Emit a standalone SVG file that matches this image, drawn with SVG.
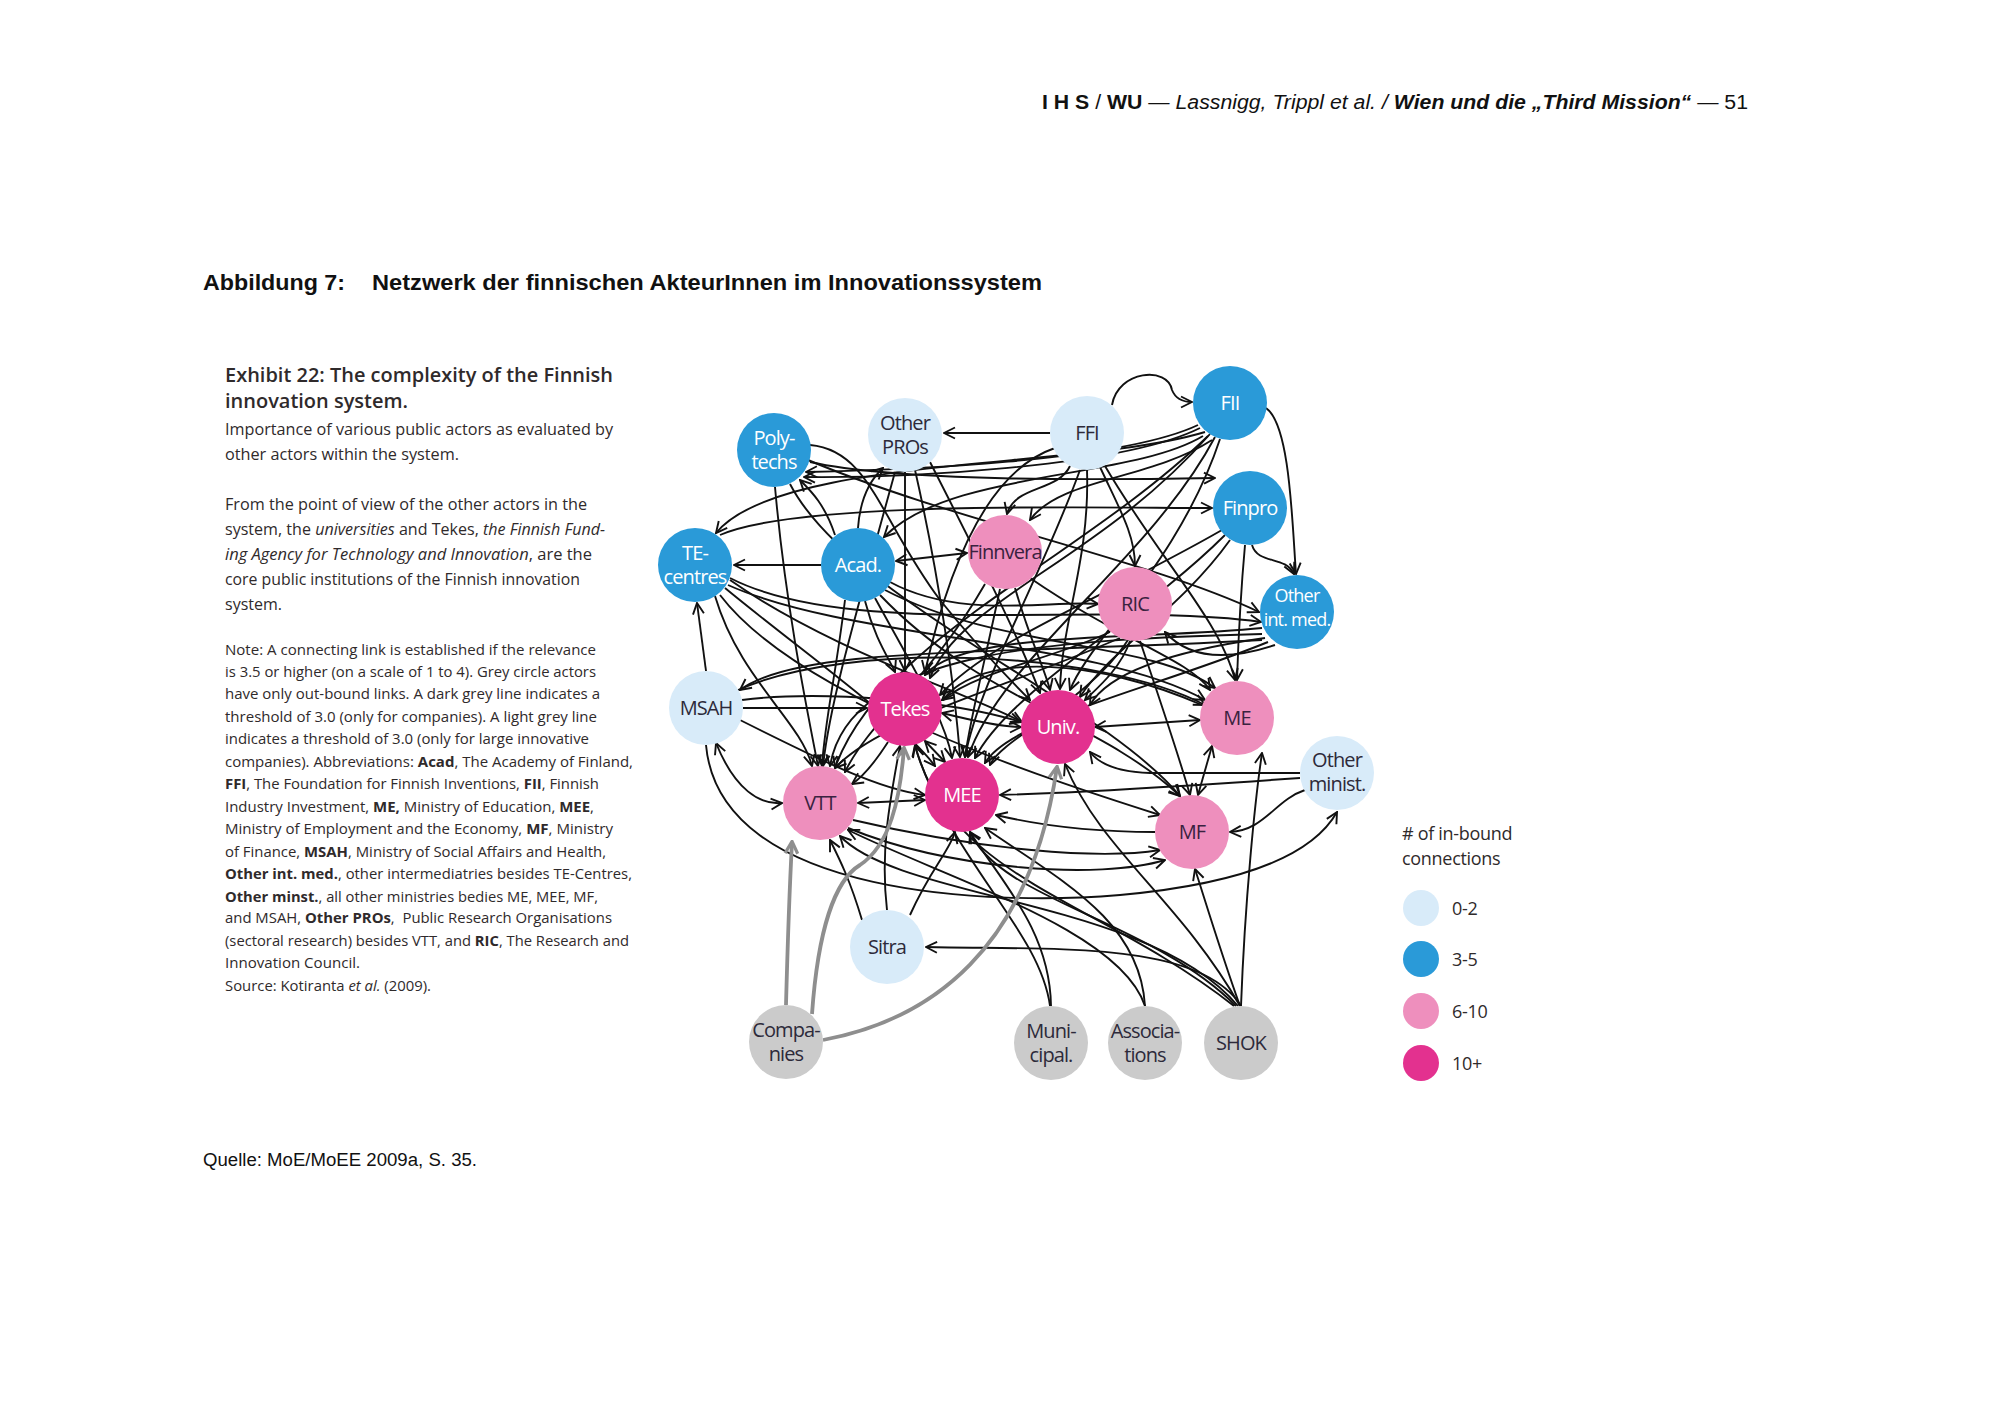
<svg xmlns="http://www.w3.org/2000/svg" width="2000" height="1414" viewBox="0 0 2000 1414">
<style>
.hdr{font-family:"Liberation Sans",Arial,sans-serif;font-size:20px;fill:#111}
.ttl{font-family:"Liberation Sans",Arial,sans-serif;font-size:22px;font-weight:bold;fill:#111}
.ex{font-family:"Open Sans","Noto Sans",sans-serif;fill:#2f2a2b}
.exh{font-size:20px;font-weight:600}
.exp{font-size:16.5px}
.exn{font-size:14.5px}
.lab{font-family:"Open Sans","Noto Sans",sans-serif;font-size:20px;text-anchor:middle;letter-spacing:-0.9px}
.sm{font-size:18px;letter-spacing:-0.8px}
.w{fill:#ffffff}
.d{fill:#2d2a3a}
.p{fill:#3a2240}
.lb{fill:#d8ebf9}
.bl{fill:#2a9ad8}
.pk{fill:#ee8fbd}
.mg{fill:#e3318f}
.gr{fill:#cbcbcb}
.e{fill:none;stroke:#111111;stroke-width:1.9}
.g{fill:none;stroke:#8e8e8e;stroke-width:3.8}
.leg{font-family:"Open Sans","Noto Sans",sans-serif;font-size:18px;fill:#2f2a2b;letter-spacing:-0.3px}
</style>
<defs>
<marker id="a" viewBox="0 0 14 14" refX="13" refY="7" markerWidth="14" markerHeight="14" markerUnits="userSpaceOnUse" orient="auto-start-reverse">
<path d="M2,1.5 L13,7 L2,12.5" fill="none" stroke="#111111" stroke-width="1.9"/>
</marker>
<marker id="ag" viewBox="0 0 14 14" refX="12" refY="7" markerWidth="16" markerHeight="16" markerUnits="userSpaceOnUse" orient="auto">
<path d="M2,1.5 L12.5,7 L2,12.5" fill="none" stroke="#8e8e8e" stroke-width="2.8"/>
</marker>
</defs>
<rect width="2000" height="1414" fill="#ffffff"/>

<!-- page header -->
<text class="hdr" x="1042" y="109" textLength="706" lengthAdjust="spacingAndGlyphs"><tspan font-weight="bold">I H S</tspan> / <tspan font-weight="bold">WU</tspan> — <tspan font-style="italic">Lassnigg, Trippl et al. / </tspan><tspan font-weight="bold" font-style="italic">Wien und die „Third Mission“</tspan> — 51</text>

<text class="ttl" x="203" y="290" textLength="142" lengthAdjust="spacingAndGlyphs">Abbildung 7:</text>
<text class="ttl" x="372" y="290" textLength="670" lengthAdjust="spacingAndGlyphs">Netzwerk der finnischen AkteurInnen im Innovationssystem</text>

<!-- exhibit text -->
<g class="ex">
<text class="exh" x="225" y="382" textLength="388" lengthAdjust="spacingAndGlyphs">Exhibit 22: The complexity of the Finnish</text>
<text class="exh" x="225" y="408" textLength="183" lengthAdjust="spacingAndGlyphs">innovation system.</text>
<text class="exp" x="225" y="435" textLength="388" lengthAdjust="spacingAndGlyphs">Importance of various public actors as evaluated by</text>
<text class="exp" x="225" y="460" textLength="234" lengthAdjust="spacingAndGlyphs">other actors within the system.</text>
<text class="exp" x="225" y="510" textLength="362" lengthAdjust="spacingAndGlyphs">From the point of view of the other actors in the</text>
<text class="exp" x="225" y="535" textLength="380" lengthAdjust="spacingAndGlyphs">system, the <tspan font-style="italic">universities</tspan> and Tekes, <tspan font-style="italic">the Finnish Fund-</tspan></text>
<text class="exp" x="225" y="560" textLength="367" lengthAdjust="spacingAndGlyphs"><tspan font-style="italic">ing Agency for Technology and Innovation</tspan>, are the</text>
<text class="exp" x="225" y="585" textLength="355" lengthAdjust="spacingAndGlyphs">core public institutions of the Finnish innovation</text>
<text class="exp" x="225" y="610" textLength="57" lengthAdjust="spacingAndGlyphs">system.</text>

<text class="exn" x="225" y="655" textLength="371" lengthAdjust="spacingAndGlyphs">Note: A connecting link is established if the relevance</text>
<text class="exn" x="225" y="677" textLength="371" lengthAdjust="spacingAndGlyphs">is 3.5 or higher (on a scale of 1 to 4). Grey circle actors</text>
<text class="exn" x="225" y="699" textLength="375" lengthAdjust="spacingAndGlyphs">have only out-bound links. A dark grey line indicates a</text>
<text class="exn" x="225" y="722" textLength="372" lengthAdjust="spacingAndGlyphs">threshold of 3.0 (only for companies). A light grey line</text>
<text class="exn" x="225" y="744" textLength="364" lengthAdjust="spacingAndGlyphs">indicates a threshold of 3.0 (only for large innovative</text>
<text class="exn" x="225" y="767" textLength="408" lengthAdjust="spacingAndGlyphs">companies). Abbreviations: <tspan font-weight="bold">Acad</tspan>, The Academy of Finland,</text>
<text class="exn" x="225" y="789" textLength="374" lengthAdjust="spacingAndGlyphs"><tspan font-weight="bold">FFI</tspan>, The Foundation for Finnish Inventions, <tspan font-weight="bold">FII</tspan>, Finnish</text>
<text class="exn" x="225" y="812" textLength="369" lengthAdjust="spacingAndGlyphs">Industry Investment, <tspan font-weight="bold">ME,</tspan> Ministry of Education, <tspan font-weight="bold">MEE</tspan>,</text>
<text class="exn" x="225" y="834" textLength="388" lengthAdjust="spacingAndGlyphs">Ministry of Employment and the Economy, <tspan font-weight="bold">MF</tspan>, Ministry</text>
<text class="exn" x="225" y="857" textLength="381" lengthAdjust="spacingAndGlyphs">of Finance, <tspan font-weight="bold">MSAH</tspan>, Ministry of Social Affairs and Health,</text>
<text class="exn" x="225" y="879" textLength="407" lengthAdjust="spacingAndGlyphs"><tspan font-weight="bold">Other int. med.</tspan>, other intermediatries besides TE-Centres,</text>
<text class="exn" x="225" y="902" textLength="373" lengthAdjust="spacingAndGlyphs"><tspan font-weight="bold">Other minst.</tspan>, all other ministries bedies ME, MEE, MF,</text>
<text class="exn" x="225" y="923" textLength="387" lengthAdjust="spacingAndGlyphs" style="white-space:pre">and MSAH, <tspan font-weight="bold">Other PROs</tspan>,  Public Research Organisations</text>
<text class="exn" x="225" y="946" textLength="404" lengthAdjust="spacingAndGlyphs">(sectoral research) besides VTT, and <tspan font-weight="bold">RIC</tspan>, The Research and</text>
<text class="exn" x="225" y="968" textLength="135" lengthAdjust="spacingAndGlyphs">Innovation Council.</text>
<text class="exn" x="225" y="991" textLength="206" lengthAdjust="spacingAndGlyphs">Source: Kotiranta <tspan font-style="italic">et al.</tspan> (2009).</text>
</g>

<!-- connectors -->
<g id="connectors">
<g class="e" marker-end="url(#a)">
<path d="M1050,433 L944,433"/>
<path d="M1112,405 C1118,370 1168,366 1172,390 C1176,400 1185,402 1192,402"/>
<path d="M1266,408 C1290,425 1292,520 1296,574"/>
<path d="M1252,545 C1258,565 1285,555 1294,574"/>
<path d="M1205,432 C1080,470 780,455 716,533"/>
<path d="M1200,428 C1120,468 900,478 804,477"/>
<path d="M1198,425 C1120,462 900,470 806,472"/>
<path d="M1203,436 C1130,480 950,470 884,537"/>
<path d="M1212,440 C1150,480 1060,478 1030,520"/>
<path d="M810,462 C900,482 1100,480 1215,478"/>
<path d="M720,535 C800,500 1100,508 1212,508"/>
<path d="M821,565 L734,565"/>
<path d="M896,561 L967,553" marker-start="url(#a)"/>
<path d="M706,671 L697,603"/>
<path d="M743,708 L867,708"/>
<path d="M905,472 L905,671"/>
<path d="M1087,470 C1090,560 1062,620 1060,689"/>
<path d="M1070,466 C1058,492 1015,485 1007,514"/>
<path d="M1100,467 C1120,510 1135,535 1135,566"/>
<path d="M858,528 C860,500 870,480 883,468"/>
<path d="M835,535 C825,505 812,492 800,480"/>
<path d="M775,487 C785,600 805,700 818,766"/>
<path d="M810,445 C870,450 880,520 940,600 C980,650 1010,680 1030,700"/>
<path d="M1055,448 C990,470 950,560 925,672"/>
<path d="M1080,470 C1040,580 980,680 965,757"/>
<path d="M1105,466 C1160,560 1220,620 1235,680"/>
<path d="M1215,437 C1150,560 1000,660 968,757"/>
<path d="M1220,439 C1180,560 1090,640 1070,690"/>
<path d="M1210,434 C1100,560 960,600 930,678"/>
<path d="M1208,436 C1080,560 880,640 835,768"/>
<path d="M1245,545 C1240,600 1238,650 1237,680"/>
<path d="M1230,540 C1180,610 1110,650 1080,697"/>
<path d="M1225,535 C1140,620 1010,690 975,758"/>
<path d="M1222,530 C1100,600 990,640 940,695"/>
<path d="M1120,638 C1000,690 880,720 835,768"/>
<path d="M1110,632 C1050,660 980,670 942,700"/>
<path d="M1128,640 C1090,700 1000,740 990,765"/>
<path d="M1130,641 C1120,670 1095,690 1085,700"/>
<path d="M1140,641 C1160,700 1180,760 1190,795"/>
<path d="M1262,628 C1150,640 960,630 925,675"/>
<path d="M1262,634 C1050,640 850,650 830,766"/>
<path d="M1265,638 C1180,650 1110,670 1090,705"/>
<path d="M1268,642 C1150,690 1010,720 985,763"/>
<path d="M1275,645 C1230,660 1190,660 1165,632"/>
<path d="M1262,640 C1000,655 800,645 740,690"/>
<path d="M985,584 C930,680 870,720 845,772"/>
<path d="M1000,589 C985,660 970,720 965,757"/>
<path d="M1030,578 C1120,640 1190,660 1210,690"/>
<path d="M1015,588 C1030,640 1045,670 1050,690"/>
<path d="M865,601 C875,640 890,660 895,672"/>
<path d="M845,600 C835,680 825,720 822,766"/>
<path d="M890,582 C960,620 1050,600 1098,604"/>
<path d="M885,590 C1000,650 1150,640 1215,688"/>
<path d="M880,595 C980,700 1100,720 1180,796"/>
<path d="M875,598 C920,680 945,720 952,758"/>
<path d="M808,460 C950,520 1150,560 1259,612"/>
<path d="M715,596 C740,680 800,720 812,766"/>
<path d="M725,588 C800,650 900,720 935,766"/>
<path d="M730,580 C830,650 960,690 1022,722"/>
<path d="M728,585 C850,640 1100,640 1205,700"/>
<path d="M730,578 C850,640 1100,600 1261,622"/>
<path d="M720,595 C800,700 1050,780 1160,815"/>
<path d="M738,690 C850,640 1100,650 1205,705"/>
<path d="M790,484 C850,600 1100,700 1180,796"/>
<path d="M1202,705 C1100,660 980,650 943,700"/>
<path d="M930,462 C980,560 1020,640 1040,693"/>
<path d="M915,470 C940,580 955,690 960,757"/>
<path d="M895,472 C860,600 830,700 823,766"/>
<path d="M716,743 C735,790 760,805 782,803" marker-start="url(#a)"/>
<path d="M740,720 C820,760 880,790 925,795"/>
<path d="M742,700 C820,690 950,700 1021,722"/>
<path d="M942,713 C970,720 1000,727 1021,727" marker-start="url(#a)"/>
<path d="M925,741 L945,762" marker-start="url(#a)"/>
<path d="M1095,727 L1200,720" marker-start="url(#a)"/>
<path d="M888,742 C870,770 858,780 852,784"/>
<path d="M858,803 L925,800" marker-start="url(#a)"/>
<path d="M1155,832 C1100,832 1050,828 996,815"/>
<path d="M1212,746 L1198,795" marker-start="url(#a)"/>
<path d="M1305,790 C1275,800 1265,830 1230,832"/>
<path d="M1300,773 L1150,773 C1120,772 1100,765 1090,752"/>
<path d="M1300,778 C1200,785 1100,792 1000,795"/>
<path d="M848,828 C950,870 1100,880 1165,860"/>
<path d="M853,820 C980,850 1100,860 1160,850"/>
<path d="M706,745 C720,900 1000,905 1120,895 C1230,885 1310,860 1337,812"/>
<path d="M887,910 C880,850 890,800 900,746"/>
<path d="M862,920 C850,880 840,860 830,840"/>
<path d="M910,915 C930,870 950,850 955,832"/>
<path d="M1241,1006 C1200,940 1050,950 926,947"/>
<path d="M1241,1006 C1245,900 1255,800 1262,753"/>
<path d="M1238,1006 C1150,900 900,900 840,836"/>
<path d="M1236,1006 C1150,920 1000,900 970,832"/>
<path d="M1234,1006 C1100,900 950,880 915,745"/>
<path d="M1240,1006 C1180,900 1100,850 1065,764"/>
<path d="M1240,1006 C1220,950 1205,900 1195,869"/>
<path d="M1145,1006 C1140,920 1060,880 985,828"/>
<path d="M1145,1006 C1120,930 950,880 848,830"/>
<path d="M1051,1006 C1050,930 1000,880 970,832"/>
<path d="M1050,1006 C1040,930 950,860 915,746"/>
</g>
<g class="g" marker-end="url(#ag)">
<path d="M786,1005 C788,930 790,880 792,842"/>
<path d="M812,1014 C818,930 835,880 860,865 C890,845 900,800 904,748"/>
<path d="M823,1040 C930,1020 1030,950 1057,767"/>
</g>
</g>

<!-- nodes -->
<g id="n-polytechs"><circle class="bl" cx="774" cy="450" r="37"/><text class="lab w" x="774" y="445">Poly-</text><text class="lab w" x="774" y="469">techs</text></g>
<g id="n-otherpros"><circle class="lb" cx="905" cy="435" r="37"/><text class="lab d" x="905" y="430">Other</text><text class="lab d" x="905" y="454">PROs</text></g>
<g id="n-ffi"><circle class="lb" cx="1087" cy="433" r="37"/><text class="lab d" x="1087" y="440">FFI</text></g>
<g id="n-fii"><circle class="bl" cx="1230" cy="403" r="37"/><text class="lab w" x="1230" y="410">FII</text></g>
<g id="n-finpro"><circle class="bl" cx="1250" cy="508" r="37"/><text class="lab w" x="1250" y="515">Finpro</text></g>
<g id="n-tecentres"><circle class="bl" cx="695" cy="565" r="37"/><text class="lab w" x="695" y="560">TE-</text><text class="lab w" x="695" y="584">centres</text></g>
<g id="n-acad"><circle class="bl" cx="858" cy="565" r="37"/><text class="lab w" x="858" y="572">Acad.</text></g>
<g id="n-finnvera"><circle class="pk" cx="1005" cy="552" r="37"/><text class="lab p" x="1005" y="559">Finnvera</text></g>
<g id="n-ric"><circle class="pk" cx="1135" cy="604" r="37"/><text class="lab p" x="1135" y="611">RIC</text></g>
<g id="n-otherintmed"><circle class="bl" cx="1297" cy="612" r="37"/><text class="lab sm w" x="1297" y="602">Other</text><text class="lab sm w" x="1297" y="626">int. med.</text></g>
<g id="n-msah"><circle class="lb" cx="706" cy="708" r="37"/><text class="lab d" x="706" y="715">MSAH</text></g>
<g id="n-tekes"><circle class="mg" cx="905" cy="709" r="37"/><text class="lab w" x="905" y="716">Tekes</text></g>
<g id="n-univ"><circle class="mg" cx="1058" cy="727" r="37"/><text class="lab w" x="1058" y="734">Univ.</text></g>
<g id="n-me"><circle class="pk" cx="1237" cy="718" r="37"/><text class="lab p" x="1237" y="725">ME</text></g>
<g id="n-otherminist"><circle class="lb" cx="1337" cy="773" r="37"/><text class="lab d" x="1337" y="767">Other</text><text class="lab d" x="1337" y="791">minist.</text></g>
<g id="n-vtt"><circle class="pk" cx="820" cy="803" r="37"/><text class="lab p" x="820" y="810">VTT</text></g>
<g id="n-mee"><circle class="mg" cx="962" cy="795" r="37"/><text class="lab w" x="962" y="802">MEE</text></g>
<g id="n-mf"><circle class="pk" cx="1192" cy="832" r="37"/><text class="lab p" x="1192" y="839">MF</text></g>
<g id="n-sitra"><circle class="lb" cx="887" cy="947" r="37"/><text class="lab d" x="887" y="954">Sitra</text></g>
<g id="n-companies"><circle class="gr" cx="786" cy="1042" r="37"/><text class="lab d" x="786" y="1037">Compa-</text><text class="lab d" x="786" y="1061">nies</text></g>
<g id="n-municipal"><circle class="gr" cx="1051" cy="1043" r="37"/><text class="lab d" x="1051" y="1038">Muni-</text><text class="lab d" x="1051" y="1062">cipal.</text></g>
<g id="n-associations"><circle class="gr" cx="1145" cy="1043" r="37"/><text class="lab d" x="1145" y="1038">Associa-</text><text class="lab d" x="1145" y="1062">tions</text></g>
<g id="n-shok"><circle class="gr" cx="1241" cy="1043" r="37"/><text class="lab d" x="1241" y="1050">SHOK</text></g>

<!-- legend -->
<g id="legend">
<text class="leg" x="1402" y="840"># of in-bound</text>
<text class="leg" x="1402" y="865">connections</text>
<circle class="lb" cx="1421" cy="908" r="18"/><text class="leg" x="1452" y="915">0-2</text>
<circle class="bl" cx="1421" cy="959" r="18"/><text class="leg" x="1452" y="966">3-5</text>
<circle class="pk" cx="1421" cy="1011" r="18"/><text class="leg" x="1452" y="1018">6-10</text>
<circle class="mg" cx="1421" cy="1063" r="18"/><text class="leg" x="1452" y="1070">10+</text>
</g>

<text class="hdr" x="203" y="1166" textLength="274" lengthAdjust="spacingAndGlyphs" style="font-size:18px">Quelle: MoE/MoEE 2009a, S. 35.</text>
</svg>
